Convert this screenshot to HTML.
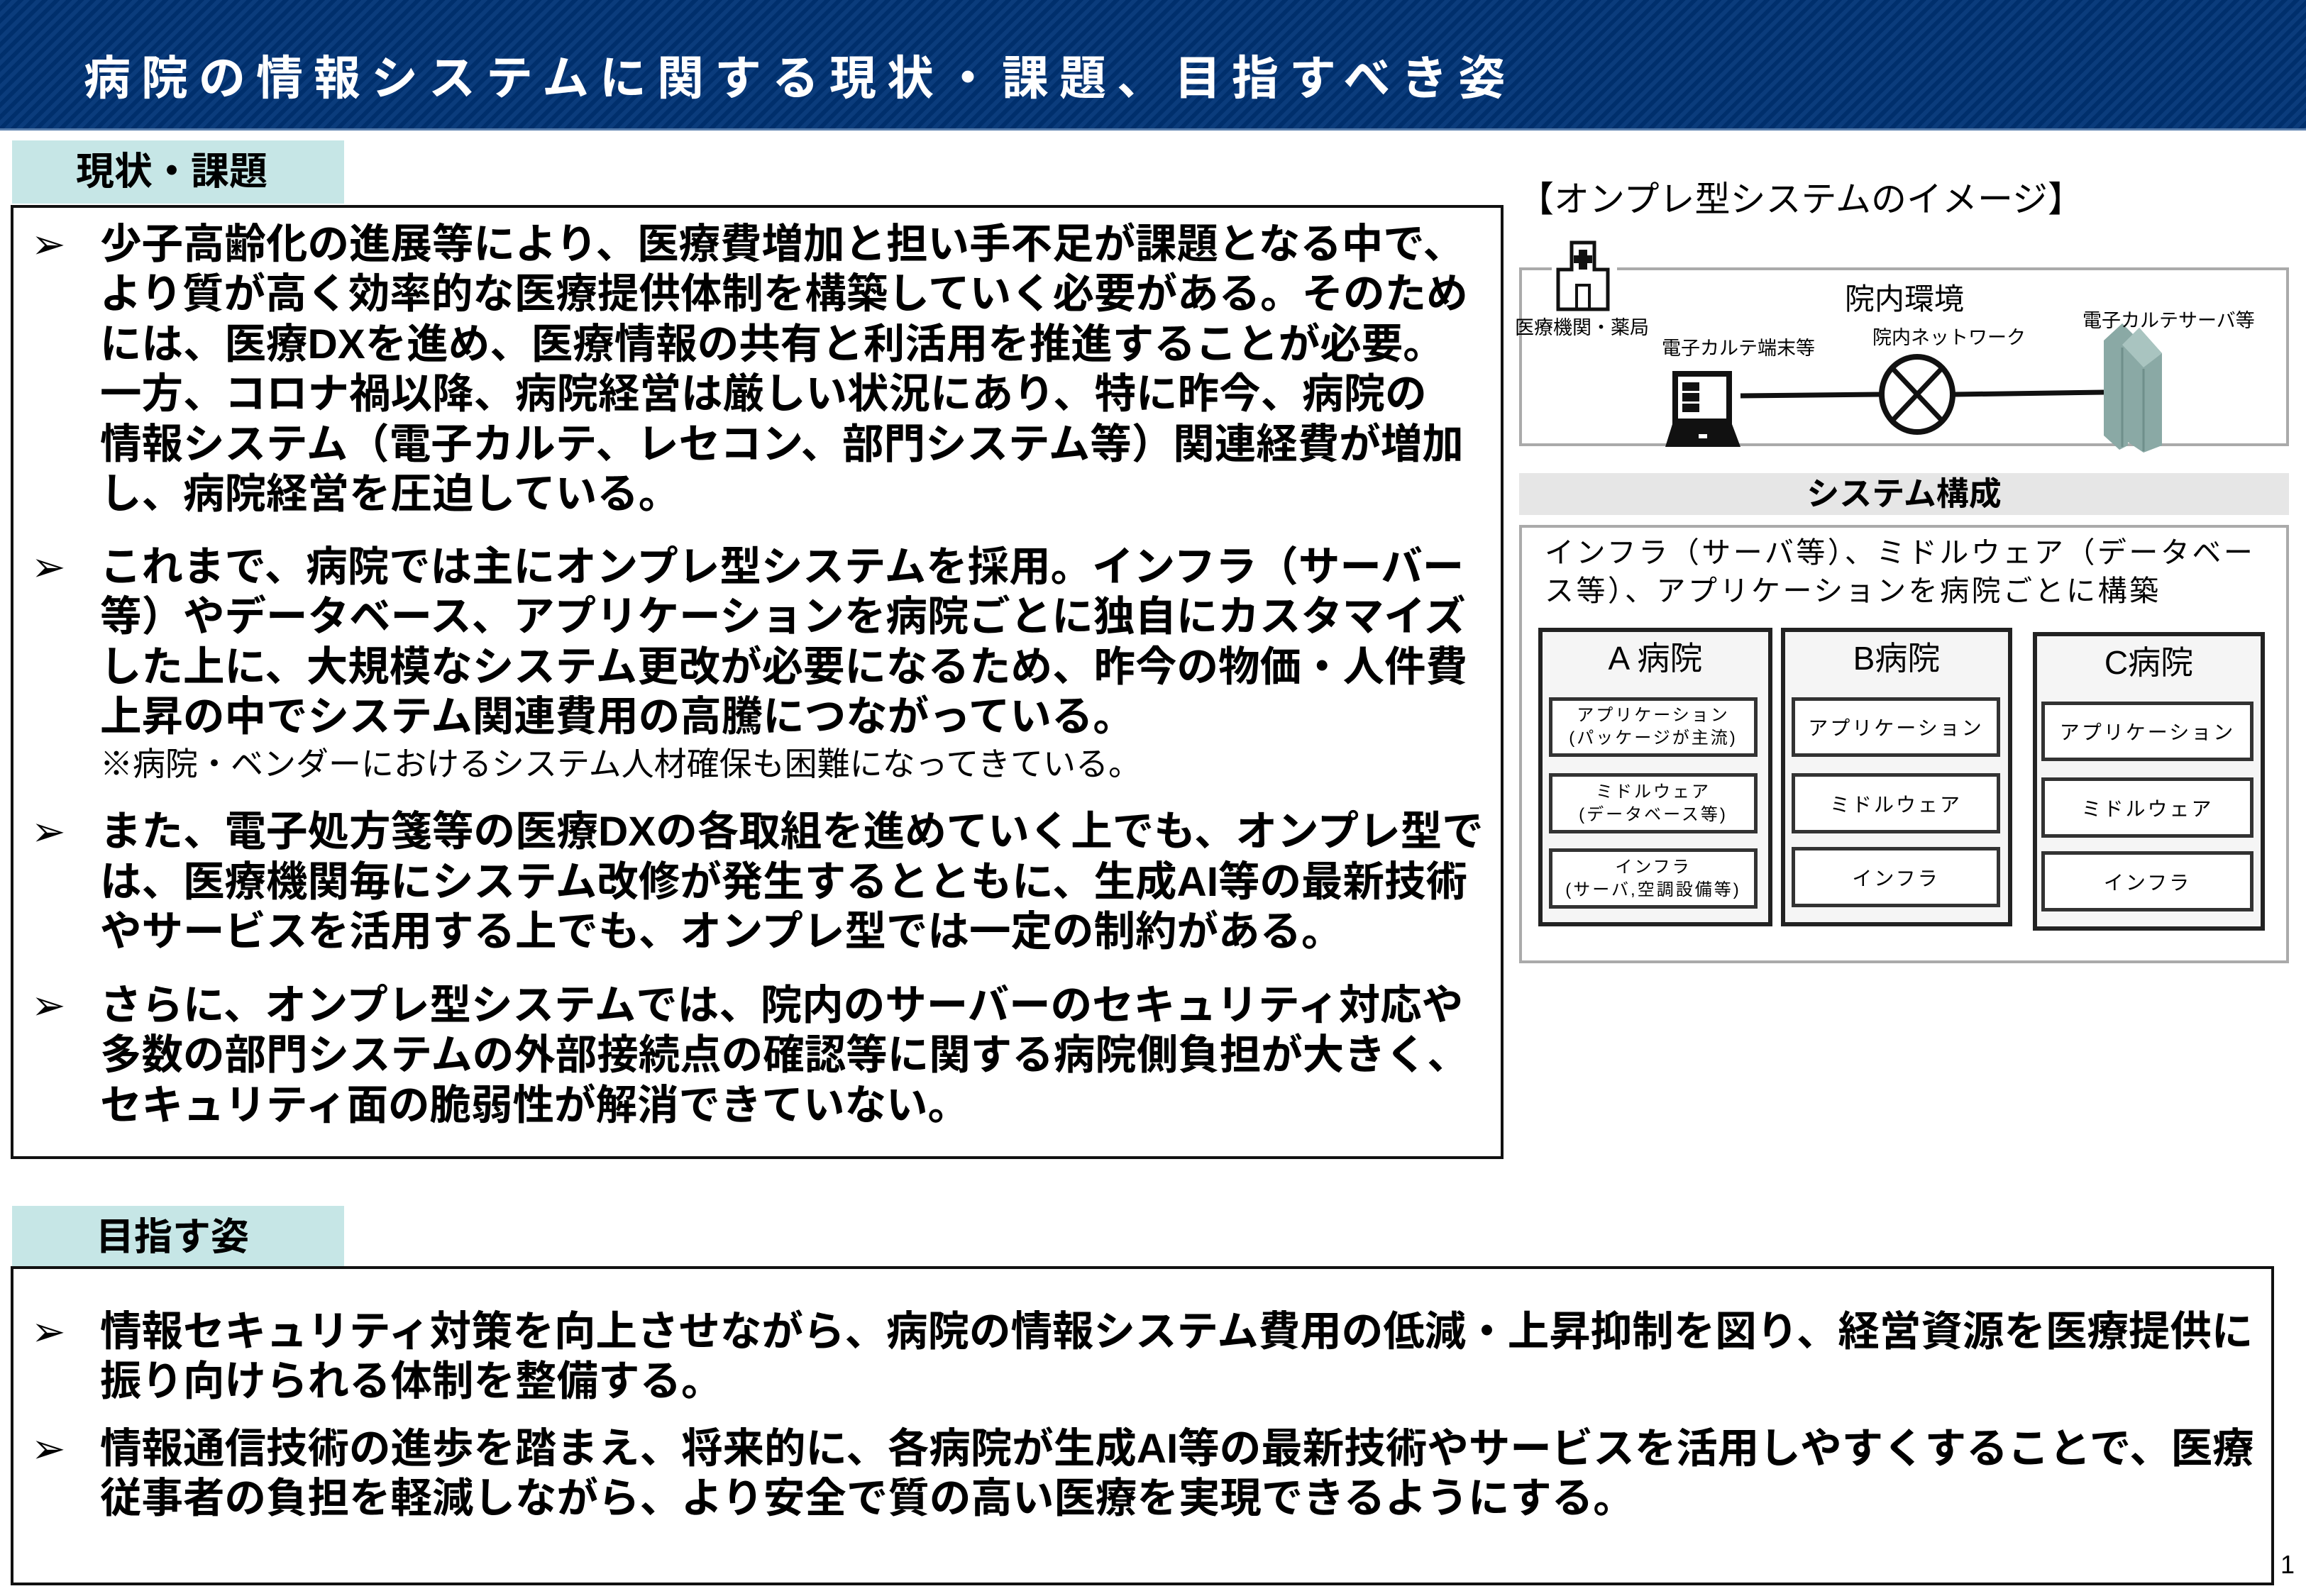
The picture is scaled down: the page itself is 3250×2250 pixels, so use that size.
<!DOCTYPE html>
<html><head><meta charset="utf-8"><style>
*{margin:0;padding:0;box-sizing:border-box}
body{width:3250px;height:2250px;background:#fff;position:relative;overflow:hidden;font-family:"Liberation Sans","Noto Sans CJK JP",sans-serif;color:#000}
.a{position:absolute;white-space:nowrap}
#hdr{left:0;top:0;width:3250px;height:184px;background:repeating-linear-gradient(135deg,#0b3c7c 0 6px,#002f6c 6px 12px);border-bottom:3px solid #5a7fae}
#title{left:118px;top:66px;font-size:66px;font-weight:bold;color:#fff;letter-spacing:15px;line-height:88px}
.tab{position:absolute;background:#c6e6e6;font-weight:bold;font-size:54px;line-height:89px}
.box{position:absolute;border:4px solid #111}
.bl{position:absolute;left:141px;font-weight:bold;font-size:58.5px;line-height:70px;white-space:nowrap}
.mk{position:absolute;left:44px;font-size:58px;line-height:70px}
.gbox{position:absolute;border:4px solid #aaa}
.hosp{position:absolute;background:#f5f5f5;border:6px solid #222}
.ib{position:absolute;background:#fff;border:5px solid #333;display:flex;align-items:center;justify-content:center;text-align:center;letter-spacing:3px}
</style></head><body>
<div id="hdr" class="a"></div>
<div id="title" class="a">病院の情報システムに関する現状・課題、目指すべき姿</div>

<div class="tab" style="left:17px;top:198px;width:468px;height:89px;padding-left:90px">現状・課題</div>
<div class="box" style="left:15px;top:289px;width:2104px;height:1345px"></div>
<div class="mk a" style="top:310px">➢</div>
<div class="bl" style="top:310px">少子高齢化の進展等により、医療費増加と担い手不足が課題となる中で、</div>
<div class="bl" style="top:380px">より質が高く効率的な医療提供体制を構築していく必要がある。そのため</div>
<div class="bl" style="top:451px">には、医療DXを進め、医療情報の共有と利活用を推進することが必要。</div>
<div class="bl" style="top:521px">一方、コロナ禍以降、病院経営は厳しい状況にあり、特に昨今、病院の</div>
<div class="bl" style="top:592px">情報システム（電子カルテ、レセコン、部門システム等）関連経費が増加</div>
<div class="bl" style="top:662px">し、病院経営を圧迫している。</div>
<div class="mk a" style="top:765px">➢</div>
<div class="bl" style="top:765px">これまで、病院では主にオンプレ型システムを採用。インフラ（サーバー</div>
<div class="bl" style="top:835px">等）やデータベース、アプリケーションを病院ごとに独自にカスタマイズ</div>
<div class="bl" style="top:906px">した上に、大規模なシステム更改が必要になるため、昨今の物価・人件費</div>
<div class="bl" style="top:976px">上昇の中でシステム関連費用の高騰につながっている。</div>
<div class="a" style="left:141px;top:1050px;font-size:46px;line-height:55px">※病院・ベンダーにおけるシステム人材確保も困難になってきている。</div>
<div class="mk a" style="top:1138px">➢</div>
<div class="bl" style="top:1138px">また、電子処方箋等の医療DXの各取組を進めていく上でも、オンプレ型で</div>
<div class="bl" style="top:1209px">は、医療機関毎にシステム改修が発生するとともに、生成AI等の最新技術</div>
<div class="bl" style="top:1279px">やサービスを活用する上でも、オンプレ型では一定の制約がある。</div>
<div class="mk a" style="top:1383px">➢</div>
<div class="bl" style="top:1383px">さらに、オンプレ型システムでは、院内のサーバーのセキュリティ対応や</div>
<div class="bl" style="top:1453px">多数の部門システムの外部接続点の確認等に関する病院側負担が大きく、</div>
<div class="bl" style="top:1524px">セキュリティ面の脆弱性が解消できていない。</div>

<div class="tab" style="left:17px;top:1700px;width:468px;height:89px;padding-left:118px">目指す姿</div>
<div class="box" style="left:15px;top:1785px;width:3190px;height:450px"></div>
<div class="mk a" style="top:1843px">➢</div>
<div class="bl" style="top:1843px">情報セキュリティ対策を向上させながら、病院の情報システム費用の低減・上昇抑制を図り、経営資源を医療提供に</div>
<div class="bl" style="top:1913px">振り向けられる体制を整備する。</div>
<div class="mk a" style="top:2008px">➢</div>
<div class="bl" style="top:2008px">情報通信技術の進歩を踏まえ、将来的に、各病院が生成AI等の最新技術やサービスを活用しやすくすることで、医療</div>
<div class="bl" style="top:2078px">従事者の負担を軽減しながら、より安全で質の高い医療を実現できるようにする。</div>
<div class="a" style="left:3214px;top:2185px;font-size:36px">1</div>

<!-- right diagram -->
<div class="a" style="left:2140px;top:250px;font-size:50px;line-height:62px">【オンプレ型システムのイメージ】</div>
<div class="gbox" style="left:2141px;top:377px;width:1085px;height:252px"></div>
<svg class="a" style="left:2141px;top:330px" width="1085" height="310" viewBox="0 0 1085 310">
 <rect x="46" y="8" width="92" height="100" fill="#fff"/>
 <path d="M74 12h32v38h19v56h-70v-56h19z" fill="#fff" stroke="#111" stroke-width="5"/>
 <rect x="84" y="22" width="12" height="28" fill="#111"/><rect x="77" y="30" width="26" height="11" fill="#111"/>
 <rect x="81" y="72" width="18" height="34" fill="none" stroke="#111" stroke-width="4"/>
 <rect x="216" y="193" width="84" height="75" fill="#111"/>
 <rect x="224" y="201" width="68" height="59" fill="#fff"/>
 <g fill="#111"><rect x="230" y="209" width="24" height="12"/><rect x="230" y="224" width="24" height="12"/><rect x="230" y="239" width="24" height="12"/></g>
 <path d="M206 300l10-32h84l12 32z" fill="#111"/>
 <rect x="253" y="282" width="12" height="6" fill="#fff"/>
 <line x1="312" y1="228" x2="508" y2="226" stroke="#111" stroke-width="7"/>
 <line x1="614" y1="226" x2="824" y2="223" stroke="#111" stroke-width="7"/>
 <ellipse cx="561" cy="226" rx="50" ry="53" fill="#fff" stroke="#111" stroke-width="8"/>
 <line x1="526" y1="189" x2="596" y2="263" stroke="#111" stroke-width="7"/>
 <line x1="596" y1="189" x2="526" y2="263" stroke="#111" stroke-width="7"/>
 <path d="M824 150l26-24 22 22-14 10v140l-12 6-22-20z" fill="#8aa9a5"/>
 <path d="M850 156l24-24 32 36v130l-26 10-30-20z" fill="#8aa9a5"/>
 <path d="M874 132l32 36-26 20-30-32z" fill="#a9c4c0"/>
 <line x1="850" y1="160" x2="850" y2="300" stroke="#6f8f8b" stroke-width="3"/>
 <line x1="880" y1="190" x2="880" y2="306" stroke="#6f8f8b" stroke-width="3"/>
</svg>
<div class="a" style="left:2135px;top:440px;font-size:27px">医療機関・薬局</div>
<div class="a" style="left:2600px;top:388px;font-size:42px">院内環境</div>
<div class="a" style="left:2342px;top:469px;font-size:27px">電子カルテ端末等</div>
<div class="a" style="left:2639px;top:454px;font-size:27px">院内ネットワーク</div>
<div class="a" style="left:2935px;top:430px;font-size:27px">電子カルテサーバ等</div>

<div class="a" style="left:2141px;top:667px;width:1085px;height:59px;background:#e6e6e6;text-align:center;font-weight:bold;font-size:46px;line-height:59px">システム構成</div>
<div class="gbox" style="left:2141px;top:740px;width:1085px;height:618px"></div>
<div class="a" style="left:2177px;top:752px;font-size:41px;line-height:54px;letter-spacing:3.5px">インフラ（サーバ等）、ミドルウェア（データベー<br>ス等）、アプリケーションを病院ごとに構築</div>

<div class="hosp" style="left:2168px;top:885px;width:330px;height:421px"></div>
<div class="hosp" style="left:2510px;top:885px;width:326px;height:421px"></div>
<div class="hosp" style="left:2865px;top:891px;width:327px;height:421px"></div>
<div class="a" style="left:2168px;top:900px;width:330px;text-align:center;font-size:46px;line-height:56px">A 病院</div>
<div class="a" style="left:2510px;top:900px;width:326px;text-align:center;font-size:46px;line-height:56px">B病院</div>
<div class="a" style="left:2865px;top:906px;width:327px;text-align:center;font-size:46px;line-height:56px">C病院</div>

<div class="ib" style="left:2183px;top:983px;width:294px;height:84px;font-size:24px;line-height:32px">アプリケーション<br>(パッケージが主流)</div>
<div class="ib" style="left:2183px;top:1090px;width:294px;height:85px;font-size:24px;line-height:32px">ミドルウェア<br>(データベース等)</div>
<div class="ib" style="left:2183px;top:1196px;width:294px;height:85px;font-size:24px;line-height:32px">インフラ<br>(サーバ,空調設備等)</div>

<div class="ib" style="left:2525px;top:983px;width:294px;height:84px;font-size:28px">アプリケーション</div>
<div class="ib" style="left:2525px;top:1090px;width:294px;height:85px;font-size:28px">ミドルウェア</div>
<div class="ib" style="left:2525px;top:1194px;width:294px;height:85px;font-size:28px">インフラ</div>

<div class="ib" style="left:2877px;top:989px;width:299px;height:84px;font-size:28px">アプリケーション</div>
<div class="ib" style="left:2877px;top:1096px;width:299px;height:85px;font-size:28px">ミドルウェア</div>
<div class="ib" style="left:2877px;top:1200px;width:299px;height:85px;font-size:28px">インフラ</div>
</body></html>
